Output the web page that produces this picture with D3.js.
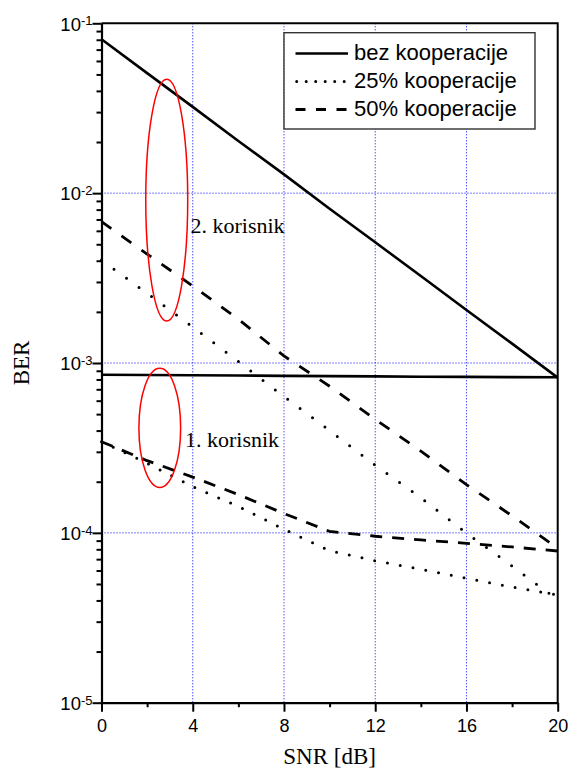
<!DOCTYPE html>
<html>
<head>
<meta charset="utf-8">
<script src="https://cdn.jsdelivr.net/npm/d3@7"></script>
<style>
  html, body { margin: 0; padding: 0; background: #fff; }
  svg { display: block; }
</style>
</head>
<body>
<svg id="chart" width="570" height="771"></svg>
<script>
// SNR sampling points [dB]
const snr = [0, 2, 4, 6, 8, 10, 12, 14, 16, 18, 20];

// BER, user 2 ("2. korisnik")
const user2None   = [0.0805, 0.0509, 0.0322, 0.0203, 0.0129, 0.0081, 0.00514, 0.00325, 0.00205, 0.0013, 0.00082];
const user2Coop25 = [0.00404, 0.00257, 0.00163, 0.00102, 0.000635, 0.000400, 0.000250, 0.000161, 0.0000998, 0.0000638, 0.0000403];
const user2Coop50 = [0.00679, 0.00438, 0.00284, 0.00181, 0.00110, 0.000730, 0.000466, 0.000303, 0.000192, 0.000126, 0.0000810];

// BER, user 1 ("1. korisnik")
const user1None   = [0.000853, 0.00085, 0.000847, 0.000844, 0.00084, 0.000837, 0.000834, 0.00083, 0.000828, 0.000826, 0.000824];
const user1Coop25 = [0.000344, 0.000257, 0.000187, 0.000143, 0.000105, 0.0000785, 0.0000685, 0.0000610, 0.0000540, 0.0000480, 0.0000430];
const user1Coop50 = [0.000344, 0.000266, 0.000213, 0.000168, 0.000130, 0.000102, 0.0000955, 0.0000908, 0.0000868, 0.0000826, 0.0000782];

// Axis ticks
const xTicks = [0, 4, 8, 12, 16, 20];
const xMinorTicks = [2, 6, 10, 14, 18];
const yExponents = [-1, -2, -3, -4, -5];
const xGrid = [4, 8, 12, 16];
const yGrid = [1e-2, 1e-3, 1e-4];

// Legend entries
const legendLabels = ["bez kooperacije", "25% kooperacije", "50% kooperacije"];
const legendKinds = ["none", "coop25", "coop50"];

// Annotation ellipses grouping the curves of each user (SNR span, BER span)
const groupNames = ["2. korisnik", "1. korisnik"];
const groupSnrSpan = [[1.94, 3.78], [1.64, 3.47]];
const groupBerSpan = [[0.0468, 0.00177], [0.00093, 0.000185]];
const groupLabelAt = [[3.9, 0.0058], [3.66, 0.00032]];

const plot = { left: 101.5, right: 557.7, top: 23.3, bottom: 702.7 };

const x = d3.scaleLinear().domain([0, 20]).range([plot.left, plot.right]);
const y = d3.scaleLog().domain([1e-5, 1e-1]).range([plot.bottom, plot.top]);

const svg = d3.select("#chart");

// dotted blue grid
const grid = svg.append("g").attr("stroke", "#0000ff").attr("stroke-width", 1)
  .attr("stroke-dasharray", "1,2");
grid.selectAll("line.gx").data(xGrid).join("line")
  .attr("x1", d => x(d)).attr("x2", d => x(d))
  .attr("y1", plot.top).attr("y2", plot.bottom);
grid.selectAll("line.gy").data(yGrid).join("line")
  .attr("x1", plot.left).attr("x2", plot.right)
  .attr("y1", d => y(d)).attr("y2", d => y(d));

// line styles
const styles = {
  none:   { dash: null, cap: "butt", width: 2.6 },
  coop25: { dash: "0,14", cap: "round", width: 3 },
  coop50: { dash: "12,11", cap: "butt", width: 2.8 }
};

const series = [
  { values: user2None, kind: "none" },
  { values: user2Coop25, kind: "coop25", dash: "0,15.5" },
  { values: user2Coop50, kind: "coop50", dash: "12,12.5" },
  { values: user1None, kind: "none" },
  { values: user1Coop25, kind: "coop25", dash: "0,13" },
  { values: user1Coop50, kind: "coop50", dash: "12,10" }
];

const line = d3.line().x(d => x(d[0])).y(d => y(d[1]));

svg.append("g").selectAll("path").data(series).join("path")
  .attr("d", s => line(snr.map((v, i) => [v, s.values[i]])))
  .attr("fill", "none")
  .attr("stroke", "#000")
  .attr("stroke-width", s => styles[s.kind].width)
  .attr("stroke-linecap", s => styles[s.kind].cap)
  .attr("stroke-dasharray", s => s.dash || styles[s.kind].dash);

// red ellipses and user labels
const ann = svg.append("g");
groupNames.forEach((name, i) => {
  const x0 = x(groupSnrSpan[i][0]), x1 = x(groupSnrSpan[i][1]);
  const yTop = y(groupBerSpan[i][0]), yBot = y(groupBerSpan[i][1]);
  ann.append("ellipse")
    .attr("cx", (x0 + x1) / 2).attr("cy", (yTop + yBot) / 2)
    .attr("rx", (x1 - x0) / 2).attr("ry", (yBot - yTop) / 2)
    .attr("fill", "none").attr("stroke", "#ff0000").attr("stroke-width", 1.5);
  ann.append("text")
    .attr("x", x(groupLabelAt[i][0])).attr("y", y(groupLabelAt[i][1]))
    .attr("font-family", "'Liberation Serif', 'Times New Roman', serif")
    .attr("font-size", 22).attr("fill", "#000")
    .text(name);
});

// legend
const lg = svg.append("g");
lg.append("rect").attr("x", 284).attr("y", 32.7).attr("width", 251).attr("height", 96.3)
  .attr("fill", "#fff").attr("stroke", "#333").attr("stroke-width", 1.4);
const legendDash = { none: null, coop25: "0,9.5", coop50: "10,10.5" };
legendLabels.forEach((label, i) => {
  const base = 60 + i * 28;
  const kind = legendKinds[i];
  lg.append("line")
    .attr("x1", kind === "coop25" ? 296.7 : 295.5).attr("x2", kind === "coop25" ? 345 : 348)
    .attr("y1", base - 6.5).attr("y2", base - 6.5)
    .attr("stroke", "#000")
    .attr("stroke-width", styles[kind].width)
    .attr("stroke-linecap", styles[kind].cap)
    .attr("stroke-dasharray", legendDash[kind]);
  lg.append("text").attr("x", 354).attr("y", base)
    .attr("font-family", "'Liberation Sans', Arial, sans-serif")
    .attr("font-size", 22).attr("fill", "#000")
    .text(label);
});

// frame: top and right border
svg.append("path")
  .attr("d", `M${plot.left},${plot.top}H${plot.right}V${plot.bottom}`)
  .attr("fill", "none").attr("stroke", "#000").attr("stroke-width", 2);

// x axis
const gx = svg.append("g").attr("transform", `translate(0,${plot.bottom})`)
  .call(d3.axisBottom(x).tickValues(xTicks).tickSize(9).tickSizeOuter(0).tickPadding(8));
gx.select(".domain").attr("stroke-width", 2.2);
gx.selectAll(".tick line").attr("stroke-width", 2);
gx.selectAll(".tick text")
  .attr("font-family", "'Liberation Sans', Arial, sans-serif")
  .attr("font-size", 18).attr("fill", "#000");
const gxm = svg.append("g").attr("transform", `translate(0,${plot.bottom})`)
  .call(d3.axisBottom(x).tickValues(xMinorTicks).tickSize(4.5).tickFormat(""));
gxm.select(".domain").remove();
gxm.selectAll(".tick line").attr("stroke-width", 2);

// y axis (log), labels as 10 with superscript exponent
const gy = svg.append("g").attr("transform", `translate(${plot.left},0)`)
  .call(d3.axisLeft(y).tickValues(yExponents.map(e => Math.pow(10, e)))
    .tickSize(9).tickSizeOuter(0).tickFormat(() => ""));
gy.select(".domain").attr("stroke-width", 2.2);
gy.selectAll(".tick line").attr("stroke-width", 2);
gy.selectAll(".tick text").each(function(d) {
  const t = d3.select(this)
    .attr("x", -9).attr("dy", null).attr("y", 6.8)
    .attr("text-anchor", "end")
    .attr("font-family", "'Liberation Sans', Arial, sans-serif")
    .attr("fill", "#000");
  t.append("tspan").attr("font-size", 18.5).text("10");
  t.append("tspan").attr("font-size", 13).attr("dy", -5.5)
    .text(String(Math.round(Math.log10(d))));
});
const minorY = [];
for (let e = -5; e < -1; e++) for (let m = 2; m <= 9; m++) minorY.push(m * Math.pow(10, e));
const gym = svg.append("g").attr("transform", `translate(${plot.left},0)`)
  .call(d3.axisLeft(y).tickValues(minorY).tickSize(5).tickFormat(""));
gym.select(".domain").remove();
gym.selectAll(".tick line").attr("stroke-width", 2);

// axis titles
svg.append("text")
  .attr("x", (plot.left + plot.right) / 2).attr("y", 764)
  .attr("text-anchor", "middle")
  .attr("font-family", "'Liberation Serif', 'Times New Roman', serif")
  .attr("font-size", 23).attr("fill", "#000")
  .text("SNR [dB]");
svg.append("text")
  .attr("transform", `translate(28.5,${(plot.top + plot.bottom) / 2}) rotate(-90)`)
  .attr("text-anchor", "middle")
  .attr("font-family", "'Liberation Serif', 'Times New Roman', serif")
  .attr("font-size", 23).attr("fill", "#000")
  .text("BER");
</script>
</body>
</html>
